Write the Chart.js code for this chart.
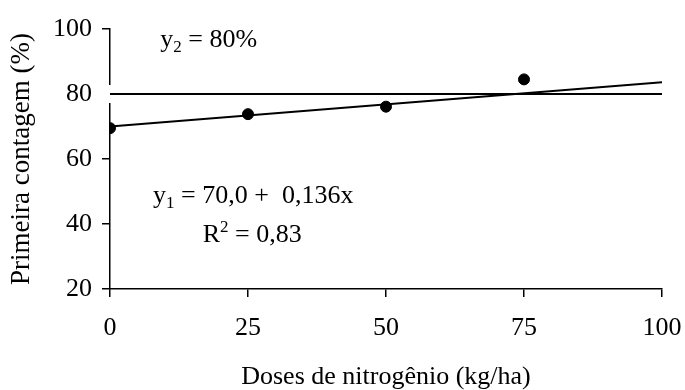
<!DOCTYPE html>
<html>
<head>
<meta charset="utf-8">
<script src="https://cdn.jsdelivr.net/npm/chart.js@4"></script>
<style>
  html, body { margin: 0; padding: 0; background: #fff; }
  #wrap { width: 685px; height: 390px; }
</style>
</head>
<body>
<div id="wrap"><canvas id="canvas"></canvas></div>
<script>
// observed means
var doses = [0, 25, 50, 75];
var contagem = [69.5, 73.8, 76.1, 84.5];

// fitted lines
var fitX = [0, 100];
var fitY1 = [70.0, 83.6];   // y1 = 70,0 + 0,136x
var fitY2 = [80, 80];       // y2 = 80%

var xTicks = [0, 25, 50, 75, 100];
var yTicks = [20, 40, 60, 80, 100];

// equation labels, anchored in data units
var notes = [
  { x: 9.1, y: 94.5, parts: [['y'], ['2', 'sub'], [' = 80%']] },
  { x: 7.8, y: 46.5, parts: [['y'], ['1', 'sub'], [' = 70,0 +  0,136x']] },
  { x: 16.8, y: 34.5, parts: [['R'], ['2', 'sup'], [' = 0,83']] }
];

var FONT = '"Liberation Serif", "Times New Roman", serif';

function pts(xs, ys) {
  var out = [];
  for (var i in xs) out.push({ x: xs[i], y: ys[i] });
  return out;
}

var notesPlugin = {
  id: 'notes',
  afterDatasetsDraw: function (chart) {
    var ctx = chart.ctx;
    var sx = chart.scales.x, sy = chart.scales.y;
    ctx.save();
    ctx.fillStyle = '#000';
    ctx.textBaseline = 'alphabetic';
    ctx.textAlign = 'left';
    notes.forEach(function (n) {
      var px = sx.getPixelForValue(n.x);
      var py = sy.getPixelForValue(n.y);
      n.parts.forEach(function (p) {
        var size = 26, dy = 0;
        if (p[1] == 'sub') { size = 17; dy = 5; }
        if (p[1] == 'sup') { size = 17; dy = -10; }
        ctx.font = size + 'px ' + FONT;
        ctx.fillText(p[0], px, py + dy);
        px += ctx.measureText(p[0]).width;
      });
    });
    ctx.restore();
  }
};

var chart = new Chart(document.getElementById('canvas').getContext('2d'), {
  type: 'scatter',
  data: {
    datasets: [{
      // white halo under y2 line, breaks the y axis like the original
      type: 'line',
      data: pts(fitX, fitY2),
      borderColor: '#fff',
      borderWidth: 18,
      borderCapStyle: 'square',
      pointRadius: 0,
      clip: false,
      order: 4
    }, {
      type: 'line',
      data: pts(fitX, fitY2),
      borderColor: '#000',
      borderWidth: 2,
      pointRadius: 0,
      order: 3
    }, {
      type: 'line',
      data: pts(fitX, fitY1),
      borderColor: '#000',
      borderWidth: 2,
      pointRadius: 0,
      order: 2
    }, {
      data: pts(doses, contagem),
      backgroundColor: '#000',
      borderColor: '#000',
      pointRadius: 5.5,
      order: 1
    }]
  },
  options: {
    responsive: true,
    maintainAspectRatio: false,
    animation: false,
    events: [],
    layout: { padding: { top: 29, right: 23, left: 0, bottom: 0 } },
    plugins: {
      legend: { display: false },
      tooltip: { enabled: false }
    },
    scales: {
      x: {
        type: 'linear',
        min: 0,
        max: 100,
        afterFit: function (s) {
          s.height = 101;
          s.paddingLeft = 0;
          s.paddingRight = 0;
        },
        afterBuildTicks: function (s) { s.ticks = xTicks.map(function (v) { return { value: v }; }); },
        grid: { drawOnChartArea: false, drawTicks: true, tickLength: 8, color: '#000', lineWidth: 1.5 },
        border: { display: true, color: '#000', width: 1.5 },
        ticks: { color: '#000', padding: 16, font: { family: FONT, size: 26 } },
        title: {
          display: true,
          text: 'Doses de nitrogênio (kg/ha)',
          color: '#000',
          padding: { top: 0, bottom: -3 },
          font: { family: FONT, size: 26 }
        }
      },
      y: {
        min: 20,
        max: 100,
        afterFit: function (s) {
          s.width = 110;
          s.paddingTop = 0;
          s.paddingBottom = 0;
        },
        afterBuildTicks: function (s) { s.ticks = yTicks.map(function (v) { return { value: v }; }); },
        grid: { drawOnChartArea: false, drawTicks: true, tickLength: 8, color: '#000', lineWidth: 1.5 },
        border: { display: true, color: '#000', width: 1.5 },
        ticks: { color: '#000', padding: 10, font: { family: FONT, size: 26 } },
        title: {
          display: true,
          text: 'Primeira contagem (%)',
          color: '#000',
          padding: { top: 6, bottom: 0 },
          font: { family: FONT, size: 27 }
        }
      }
    }
  },
  plugins: [notesPlugin]
});
</script>
</body>
</html>
